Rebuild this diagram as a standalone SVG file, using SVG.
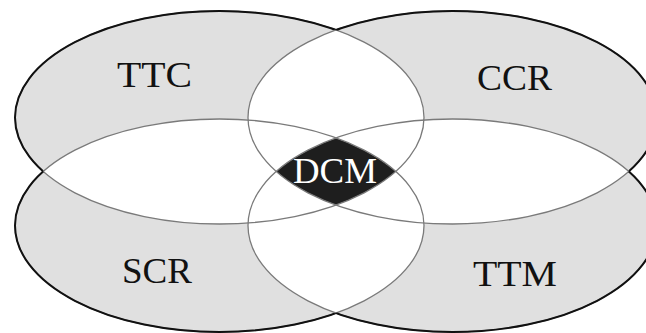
<svg xmlns="http://www.w3.org/2000/svg" xmlns:xlink="http://www.w3.org/1999/xlink" width="646" height="333" viewBox="0 0 646 333">
<style>
.fill{fill:#e0e0e0;stroke:none}
.ov{fill:#ffffff;stroke:none}
.inner{fill:none;stroke:#7a7a7a;stroke-width:1.3}
.outer{fill:none;stroke:#111111;stroke-width:2}
.lbl{font-family:"Liberation Serif","DejaVu Serif",serif;font-size:35px;fill:#111111;text-anchor:middle}
.dcm{fill:#ffffff}
</style>
<defs>
<ellipse id="e1" cx="219.5" cy="117.5" rx="204.5" ry="106.5"/>
<ellipse id="e2" cx="452.5" cy="117.5" rx="204.5" ry="106.5"/>
<ellipse id="e3" cx="219.5" cy="225.5" rx="204.5" ry="106.5"/>
<ellipse id="e4" cx="452.5" cy="225.5" rx="204.5" ry="106.5"/>
<clipPath id="c1"><use xlink:href="#e1"/></clipPath>
<clipPath id="c2"><use xlink:href="#e2"/></clipPath>
<clipPath id="c3"><use xlink:href="#e3"/></clipPath>
<clipPath id="c4"><use xlink:href="#e4"/></clipPath>
<mask id="m1" maskUnits="userSpaceOnUse" x="0" y="0" width="646" height="333"><rect width="646" height="333" fill="#fff"/><use xlink:href="#e2" fill="#000"/><use xlink:href="#e3" fill="#000"/><use xlink:href="#e4" fill="#000"/></mask>
<mask id="m2" maskUnits="userSpaceOnUse" x="0" y="0" width="646" height="333"><rect width="646" height="333" fill="#fff"/><use xlink:href="#e1" fill="#000"/><use xlink:href="#e3" fill="#000"/><use xlink:href="#e4" fill="#000"/></mask>
<mask id="m3" maskUnits="userSpaceOnUse" x="0" y="0" width="646" height="333"><rect width="646" height="333" fill="#fff"/><use xlink:href="#e1" fill="#000"/><use xlink:href="#e2" fill="#000"/><use xlink:href="#e4" fill="#000"/></mask>
<mask id="m4" maskUnits="userSpaceOnUse" x="0" y="0" width="646" height="333"><rect width="646" height="333" fill="#fff"/><use xlink:href="#e1" fill="#000"/><use xlink:href="#e2" fill="#000"/><use xlink:href="#e3" fill="#000"/></mask>
</defs>
<rect width="646" height="333" fill="#ffffff"/>
<g id="regions">
<use xlink:href="#e1" class="fill"/>
<use xlink:href="#e2" class="fill"/>
<use xlink:href="#e3" class="fill"/>
<use xlink:href="#e4" class="fill"/>
<use xlink:href="#e2" class="ov" clip-path="url(#c1)"/>
<use xlink:href="#e3" class="ov" clip-path="url(#c1)"/>
<use xlink:href="#e4" class="ov" clip-path="url(#c1)"/>
<use xlink:href="#e3" class="ov" clip-path="url(#c2)"/>
<use xlink:href="#e4" class="ov" clip-path="url(#c2)"/>
<use xlink:href="#e4" class="ov" clip-path="url(#c3)"/>
<g clip-path="url(#c1)"><g clip-path="url(#c2)"><g clip-path="url(#c3)"><use xlink:href="#e4" fill="#1e1e1e"/></g></g></g>
</g>
<g id="node-TTC">
<use xlink:href="#e1" class="inner"/>
<use xlink:href="#e1" class="outer" mask="url(#m1)"/>
<text class="lbl" x="154.5" y="87" textLength="75" lengthAdjust="spacingAndGlyphs">TTC</text>
</g>
<g id="node-CCR">
<use xlink:href="#e2" class="inner"/>
<use xlink:href="#e2" class="outer" mask="url(#m2)"/>
<text class="lbl" x="514.5" y="90" textLength="75" lengthAdjust="spacingAndGlyphs">CCR</text>
</g>
<g id="node-SCR">
<use xlink:href="#e3" class="inner"/>
<use xlink:href="#e3" class="outer" mask="url(#m3)"/>
<text class="lbl" x="157" y="283" textLength="70" lengthAdjust="spacingAndGlyphs">SCR</text>
</g>
<g id="node-TTM">
<use xlink:href="#e4" class="inner"/>
<use xlink:href="#e4" class="outer" mask="url(#m4)"/>
<text class="lbl" x="515" y="286" textLength="84" lengthAdjust="spacingAndGlyphs">TTM</text>
</g>
<g id="node-DCM">
<text class="lbl dcm" x="335" y="183" textLength="84" lengthAdjust="spacingAndGlyphs">DCM</text>
</g>
</svg>
